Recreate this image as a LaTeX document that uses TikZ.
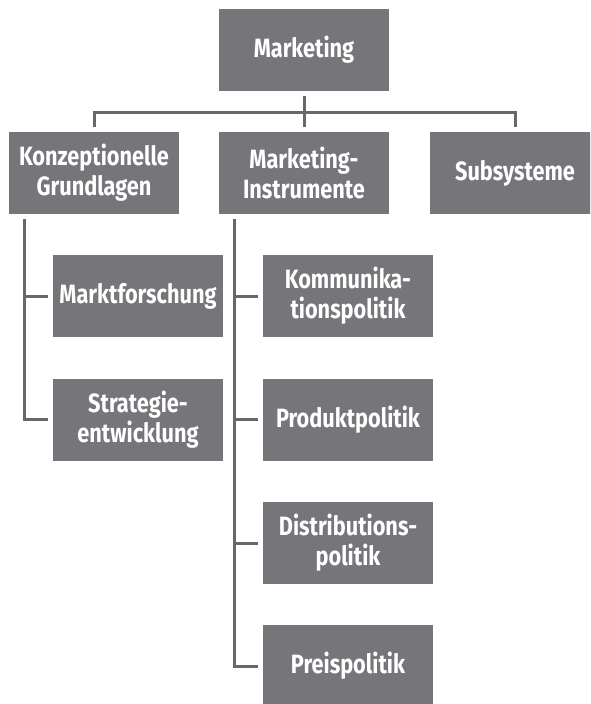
\documentclass[tikz,border=0pt]{standalone}
\usepackage{fontspec}
\setmainfont{Fira Sans}[FakeStretch=0.82]

\definecolor{boxgray}{RGB}{118,118,122}
\definecolor{linegray}{RGB}{104,104,108}

\tikzset{
  box/.style={fill=boxgray, text=white, font=\bfseries\fontsize{26.5}{30}\selectfont,
    minimum width=170pt, minimum height=82pt, align=center, inner sep=0pt, outer sep=5pt},
  conn/.style={draw=linegray, line width=3pt}
}

\begin{document}
\begin{tikzpicture}[x=1pt, y=-1pt]
  \clip (0, 0) rectangle (590, 704);

  \node[box] (mk) at (304, 49.5) {Marketing};

  \node[box] (kg) at (94, 173) {Konzeptionelle\\Grundlagen};
  \node[box] (mi) at (304, 173) {Marketing-\\Instrumente};
  \node[box] (sub) at (515, 173) {Subsysteme};

  \node[box] (mf) at (138, 296) {Marktforschung};
  \node[box] (se) at (138, 419.5) {Strategie-\\entwicklung};

  \node[box] (kp) at (348, 296) {Kommunika-\\tionspolitik};
  \node[box] (pp) at (348, 419.5) {Produktpolitik};
  \node[box] (dp) at (348, 543) {Distributions-\\politik};
  \node[box] (pr) at (348, 666) {Preispolitik};

  % top level
  \draw[conn] (mk.south) -- (mi.north);
  \draw[conn] (kg.north) -- ++(0, -15) -| (sub.north);

  % left branch
  \coordinate (kgl) at ([xshift=20pt]kg.south west);
  \draw[conn] (kgl) |- (se.west);
  \draw[conn] (kgl |- mf.west) -- (mf.west);

  % middle branch
  \coordinate (mil) at ([xshift=20pt]mi.south west);
  \draw[conn] (mil) |- (pr.west);
  \draw[conn] (mil |- kp.west) -- (kp.west);
  \draw[conn] (mil |- pp.west) -- (pp.west);
  \draw[conn] (mil |- dp.west) -- (dp.west);
\end{tikzpicture}
\end{document}
